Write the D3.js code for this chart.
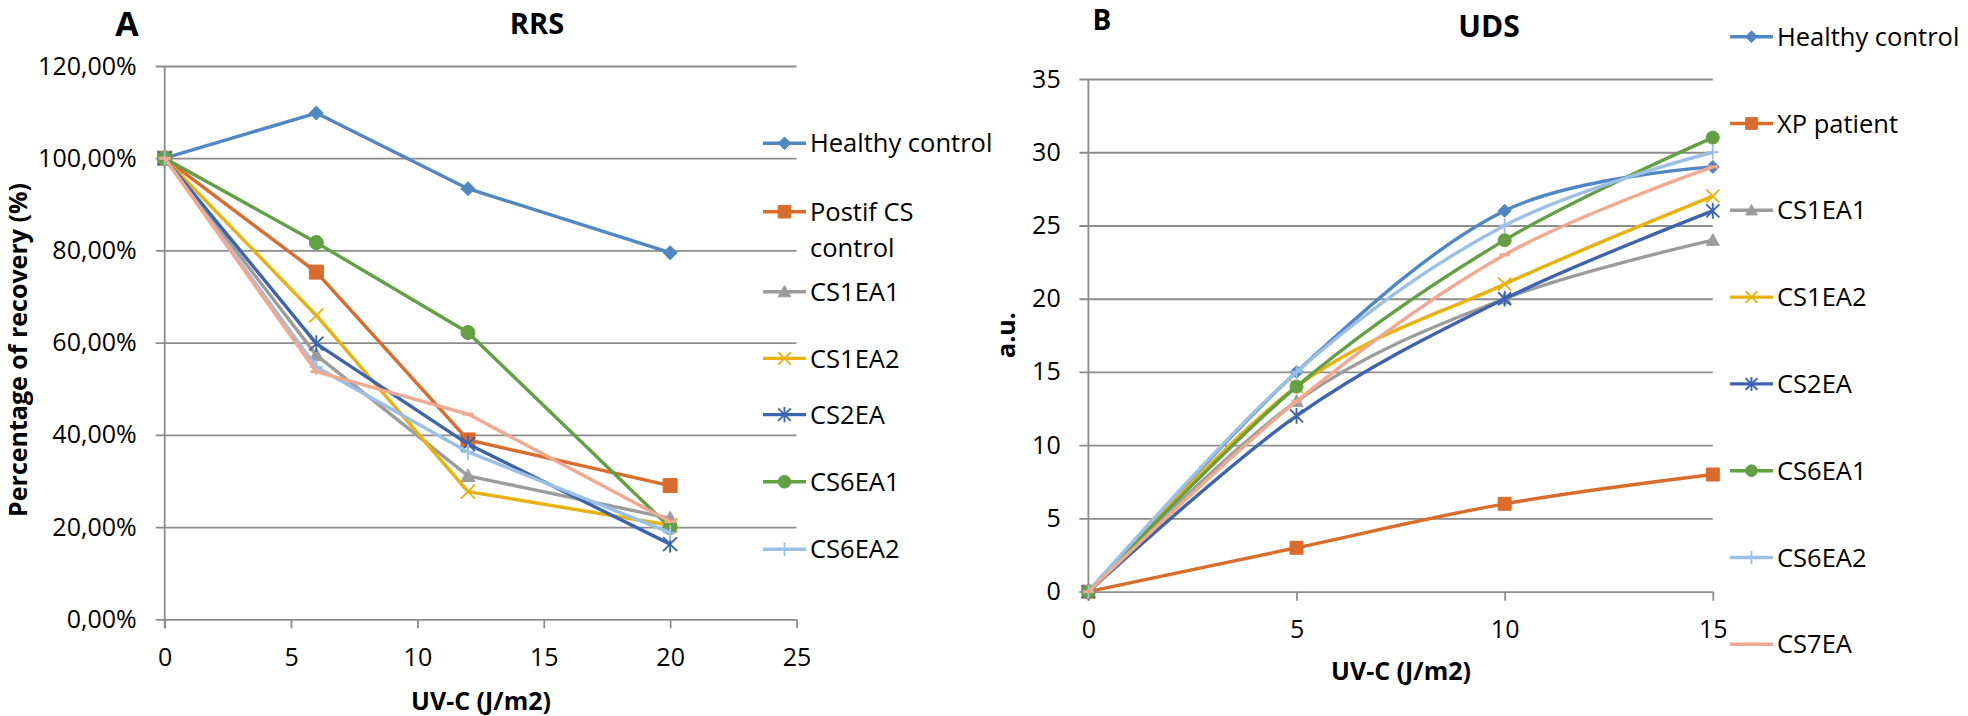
<!DOCTYPE html>
<html><head><meta charset="utf-8">
<script src="https://cdn.jsdelivr.net/npm/d3@7"></script>
<style>
body{margin:0;background:#fff;}
text{font-family:'Open Sans',sans-serif;fill:#000;}
</style>
</head><body>
<svg id="c" width="1968" height="716"></svg>
<script>
// ---------------- DATA ----------------
const doseA = [0, 6, 12, 20];
const namesA = ["Healthy control","Postif CS control","CS1EA1","CS1EA2","CS2EA","CS6EA1","CS6EA2","CS7EA"];
const rrsHealthy = [100, 109.8, 93.4, 79.5];
const rrsPostif  = [100, 75.3, 38.9, 29.0];
const rrsCS1EA1  = [100, 57.3, 31.1, 21.9];
const rrsCS1EA2  = [100, 65.9, 27.7, 20.4];
const rrsCS2EA   = [100, 59.8, 38.0, 16.3];
const rrsCS6EA1  = [100, 81.7, 62.2, 19.9];
const rrsCS6EA2  = [100, 54.7, 36.3, 18.8];
const rrsCS7EA   = [100, 53.7, 44.5, 21.2];
const yTicksA = [0, 20, 40, 60, 80, 100, 120];
const xTicksA = [0, 5, 10, 15, 20, 25];

const doseB = [0, 5, 10, 15];
const namesB = ["Healthy control","XP patient","CS1EA1","CS1EA2","CS2EA","CS6EA1","CS6EA2","CS7EA"];
const udsHealthy = [0, 15, 26, 29];
const udsXP      = [0, 3, 6, 8];
const udsCS1EA1  = [0, 13, 20, 24];
const udsCS1EA2  = [0, 14, 21, 27];
const udsCS2EA   = [0, 12, 20, 26];
const udsCS6EA1  = [0, 14, 24, 31];
const udsCS6EA2  = [0, 15, 25, 30];
const udsCS7EA   = [0, 13, 23, 29];
const yTicksB = [0, 5, 10, 15, 20, 25, 30, 35];
const xTicksB = [0, 5, 10, 15];

// ---------------- STYLE ----------------
const colors  = ["#4F87C4","#D96B2B","#9C9C9C","#E8B10E","#3C64AE","#62A043","#9BC0E5","#F0A98E"];
const markers = ["diamond","square","triangle","x","asterisk","circle","plus","dash"];
const GRID = "#8C8C8C";

const svg = d3.select("#c");
const locale = d3.formatLocale({decimal: ",", thousands: ".", grouping: [3], currency: ["", ""]});
const fmt2 = locale.format(".2f");

function markerPath(type, r) {
  switch (type) {
    case "diamond": return `M0,${-r}L${r},0L0,${r}L${-r},0Z`;
    case "square": return `M${-r},${-r}H${r}V${r}H${-r}Z`;
    case "triangle": return `M0,${-r}L${r},${r*0.8}L${-r},${r*0.8}Z`;
    case "circle": return d3.arc()({innerRadius:0, outerRadius:r, startAngle:0, endAngle:2*Math.PI});
    case "x": return `M${-r},${-r}L${r},${r}M${r},${-r}L${-r},${r}`;
    case "asterisk": return `M${-r},${-r}L${r},${r}M${r},${-r}L${-r},${r}M0,${-r*1.2}V${r*1.2}`;
    case "plus": return `M0,${-r*1.1}V${r*1.1}M${-r*0.9},0H${r*0.9}`;
    case "dash": return `M${-r*0.8},0H${r*0.8}`;
  }
}
function isFilled(t){ return t==="diamond"||t==="square"||t==="triangle"||t==="circle"; }

function drawMarker(g, type, color, x, y, r) {
  const p = g.append("path").attr("d", markerPath(type, r)).attr("transform", `translate(${x},${y})`);
  if (isFilled(type)) p.attr("fill", color).attr("stroke", color).attr("stroke-width", 1);
  else p.attr("fill", "none").attr("stroke", color).attr("stroke-width", type==="dash"?3:1.9);
}

function panel(cfg) {
  const g = svg.append("g");
  const x = d3.scaleLinear().domain(cfg.xDomain).range([cfg.x0, cfg.x1]);
  const y = d3.scaleLinear().domain(cfg.yDomain).range([cfg.yBot, cfg.yTop]);

  const ya = g.append("g").attr("transform", `translate(${cfg.x0-9},0)`)
    .call(d3.axisLeft(y).tickValues(cfg.yTicks).tickSize(-(cfg.x1-cfg.x0+9)).tickPadding(cfg.yPad).tickFormat(cfg.yFmt));
  ya.select(".domain").remove();
  ya.selectAll(".tick line").attr("stroke", GRID).attr("stroke-width", 1.8);
  ya.selectAll(".tick text").attr("font-size", 25).attr("fill", "#000");

  const xa = g.append("g").attr("transform", `translate(0,${cfg.yBot})`)
    .call(d3.axisBottom(x).tickValues(cfg.xTicks).tickSize(9).tickPadding(20).tickFormat(d3.format("d")));
  xa.select(".domain").remove();
  xa.selectAll(".tick line").attr("stroke", GRID).attr("stroke-width", 1.8);
  xa.selectAll(".tick text").attr("font-size", 25).attr("fill", "#000");

  g.append("line").attr("x1", cfg.x0).attr("x2", cfg.x0).attr("y1", cfg.yTop).attr("y2", cfg.yBot+9)
    .attr("stroke", GRID).attr("stroke-width", 1.8);

  const line = d3.line().x((d,i)=>x(cfg.xs[i])).y(d=>y(d)).curve(cfg.curve);
  cfg.series.forEach((vals, si) => {
    const sg = g.append("g");
    sg.append("path").attr("d", line(vals)).attr("fill", "none")
      .attr("stroke", colors[si]).attr("stroke-width", 3.4).attr("stroke-linejoin", "round");
    vals.forEach((v, i) => drawMarker(sg, markers[si], colors[si], x(cfg.xs[i]), y(v), cfg.mr));
  });

  const lg = g.append("g");
  cfg.legendRows.forEach((ly, i) => {
    lg.append("line").attr("x1", cfg.legX).attr("x2", cfg.legX + cfg.legLen).attr("y1", ly).attr("y2", ly)
      .attr("stroke", colors[i]).attr("stroke-width", 3.4);
    drawMarker(lg, markers[i], colors[i], cfg.legX + cfg.legLen/2, ly, cfg.mr*0.9);
    const t = lg.append("text").attr("x", cfg.legX + cfg.legLen + 4).attr("y", ly)
      .attr("font-size", 25.5);
    cfg.legendLabels[i].forEach((ln, k) => t.append("tspan").attr("x", cfg.legX + cfg.legLen + 4).attr("dy", k===0?"0.36em":"36.5").text(ln));
  });

  g.append("text").attr("x", cfg.letterX).attr("y", cfg.letterY).attr("text-anchor", "middle")
    .attr("font-weight", "bold").attr("font-size", cfg.letterSize).text(cfg.letter);
  g.append("text").attr("x", cfg.titleX).attr("y", cfg.titleY).attr("text-anchor", "middle")
    .attr("font-weight", "bold").attr("font-size", cfg.titleSize).text(cfg.title);
  g.append("text").attr("x", cfg.xtX).attr("y", cfg.xtY).attr("text-anchor", "middle")
    .attr("font-weight", "bold").attr("font-size", 25).text("UV-C (J/m2)");
  g.append("text").attr("transform", `translate(${cfg.ytX},${cfg.ytY}) rotate(-90)`).attr("text-anchor", "middle")
    .attr("font-weight", "bold").attr("font-size", 25).text(cfg.yTitle);
}

panel({
  xDomain: [0, 25], yDomain: [0, 120], x0: 164.7, x1: 796.5, yTop: 66, yBot: 619.3,
  yTicks: yTicksA, xTicks: xTicksA, yPad: 19, yFmt: v => fmt2(v) + "%",
  xs: doseA, curve: d3.curveLinear, mr: 7,
  series: [rrsHealthy, rrsPostif, rrsCS1EA1, rrsCS1EA2, rrsCS2EA, rrsCS6EA1, rrsCS6EA2, rrsCS7EA],
  legendRows: [143.3, 211.7, 291.7, 358.4, 414.6, 481.7, 549.3],
  legendLabels: [[namesA[0]], ["Postif CS", "control"], [namesA[2]], [namesA[3]], [namesA[4]], [namesA[5]], [namesA[6]]],
  legX: 763, legLen: 43,
  letter: "A", letterX: 127, letterY: 36, letterSize: 34,
  title: "RRS", titleX: 537, titleY: 34, titleSize: 29,
  xtX: 481, xtY: 710, ytX: 27, ytY: 350, yTitle: "Percentage of recovery (%)"
});

panel({
  xDomain: [0, 15], yDomain: [0, 35], x0: 1088.4, x1: 1712.8, yTop: 79, yBot: 591.7,
  yTicks: yTicksB, xTicks: xTicksB, yPad: 18.7, yFmt: d3.format("d"),
  xs: doseB, curve: d3.curveCardinal.tension(0), mr: 6.5,
  series: [udsHealthy, udsXP, udsCS1EA1, udsCS1EA2, udsCS2EA, udsCS6EA1, udsCS6EA2, udsCS7EA],
  legendRows: d3.range(8).map(i => 36.7 + i*86.8),
  legendLabels: namesB.map(n => [n]),
  legX: 1730, legLen: 43,
  letter: "B", letterX: 1102, letterY: 30, letterSize: 28,
  title: "UDS", titleX: 1489, titleY: 37, titleSize: 30,
  xtX: 1401, xtY: 680, ytX: 1015, ytY: 335, yTitle: "a.u."
});
</script>
</body></html>
